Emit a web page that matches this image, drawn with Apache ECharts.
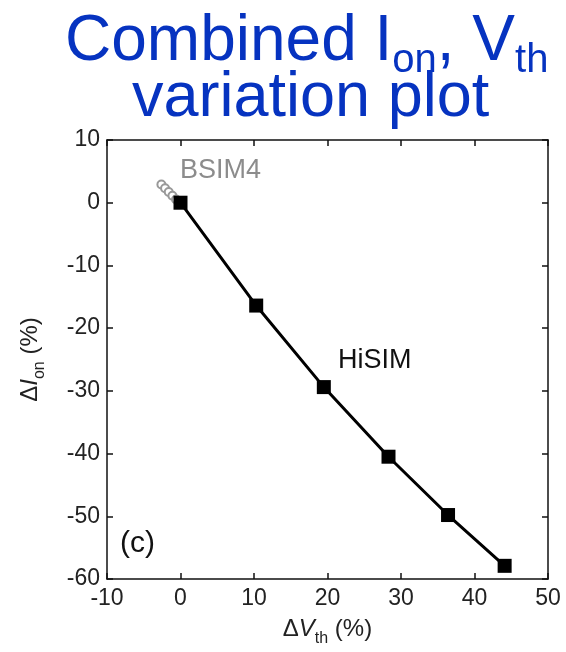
<!DOCTYPE html>
<html>
<head>
<meta charset="utf-8">
<script src="https://cdn.jsdelivr.net/npm/echarts@6/dist/echarts.min.js"></script>
<style>
  html, body { margin: 0; padding: 0; background: #fff; }
  #chart { width: 566px; height: 652px; }
</style>
</head>
<body>
<div id="chart"></div>
<script>
// HiSIM: delta Vth (%) vs delta Ion (%)
const hisimX = [0, 10.3, 19.5, 28.3, 36.4, 44.1]
const hisimY = [0, -16.4, -29.4, -40.5, -49.8, -57.9]
// BSIM4 cluster near origin
const bsimX = [-2.6, -2.1, -1.6, -1.1, -0.6, 0]
const bsimY = [2.9, 2.3, 1.7, 1.1, 0.5, 0]

const xTicks = [-10, 0, 10, 20, 30, 40, 50]
const yTicks = [-60, -50, -40, -30, -20, -10, 0, 10]

const font = 'Liberation Sans, Arial, Helvetica, sans-serif'
const blue = '#0633c0'

const chart = echarts.init(document.getElementById('chart'))

const baseX = {
  type: 'value',
  min: xTicks[0],
  max: xTicks[xTicks.length - 1],
  interval: 10,
  axisLine: { onZero: false, lineStyle: { color: '#111', width: 1.5 } },
  axisTick: { inside: true, length: 6, lineStyle: { color: '#111', width: 1.5 } },
  splitLine: { show: false }
}
const baseY = {
  type: 'value',
  min: yTicks[0],
  max: yTicks[yTicks.length - 1],
  interval: 10,
  axisLine: { onZero: false, lineStyle: { color: '#111', width: 1.5 } },
  axisTick: { inside: true, length: 6, lineStyle: { color: '#111', width: 1.5 } },
  splitLine: { show: false }
}

const nameRich = {
  d: { fontSize: 24, color: '#222', fontFamily: font },
  v: { fontSize: 24, color: '#222', fontFamily: font, fontStyle: 'italic' },
  s: { fontSize: 16, color: '#222', fontFamily: font, verticalAlign: 'top', lineHeight: 12, padding: [14, 0, 0, 0] }
}

chart.setOption({
  animation: false,
  backgroundColor: '#fff',
  grid: { left: 107, right: 18, top: 140, bottom: 73 },
  xAxis: [
    {
      ...baseX,
      position: 'bottom',
      axisLabel: { fontSize: 23, color: '#222', fontFamily: font, margin: 8 },
      name: '{d|\u0394}{v|V}{s|th}{d| (%)}',
      nameLocation: 'middle',
      nameGap: 38,
      nameTextStyle: { rich: nameRich }
    },
    { ...baseX, position: 'top', axisLabel: { show: false } }
  ],
  yAxis: [
    {
      ...baseY,
      position: 'left',
      axisLabel: { fontSize: 23, color: '#222', fontFamily: font, margin: 7 },
      name: '{d|\u0394}{v|I}{s|on}{d| (%)}',
      nameLocation: 'middle',
      nameGap: 65,
      nameTextStyle: { rich: nameRich }
    },
    { ...baseY, position: 'right', axisLabel: { show: false } }
  ],
  series: [
    {
      name: 'BSIM4',
      type: 'line',
      data: bsimX.map((x, i) => [x, bsimY[i]]),
      symbol: 'emptyCircle',
      symbolSize: 8,
      lineStyle: { color: '#999', width: 2 },
      itemStyle: { color: '#999', borderWidth: 1.5 }
    },
    {
      name: 'HiSIM',
      type: 'line',
      data: hisimX.map((x, i) => [x, hisimY[i]]),
      symbol: 'rect',
      symbolSize: 14,
      lineStyle: { color: '#000', width: 3 },
      itemStyle: { color: '#000' }
    }
  ],
  graphic: [
    {
      type: 'text',
      left: 65,
      top: 10,
      style: {
        text: '{a|Combined I}{s|on}{a|, V}{s|th}',
        rich: {
          a: { fontSize: 64, fontFamily: font, fill: blue, lineHeight: 56 },
          s: { fontSize: 40, fontFamily: font, fill: blue, verticalAlign: 'top', lineHeight: 12, padding: [27, 0, 0, 0] }
        }
      }
    },
    {
      type: 'text',
      left: 132,
      top: 67,
      style: { text: 'variation plot', fontSize: 63, fontFamily: font, fill: blue }
    },
    {
      type: 'text',
      left: 180,
      top: 157,
      style: { text: 'BSIM4', fontSize: 27, fontFamily: font, fill: '#8c8c8c' }
    },
    {
      type: 'text',
      left: 338,
      top: 347,
      style: { text: 'HiSIM', fontSize: 27, fontFamily: font, fill: '#111' }
    },
    {
      type: 'text',
      left: 120,
      top: 529,
      style: { text: '(c)', fontSize: 30, fontFamily: font, fill: '#111' }
    }
  ]
})
</script>
</body>
</html>
